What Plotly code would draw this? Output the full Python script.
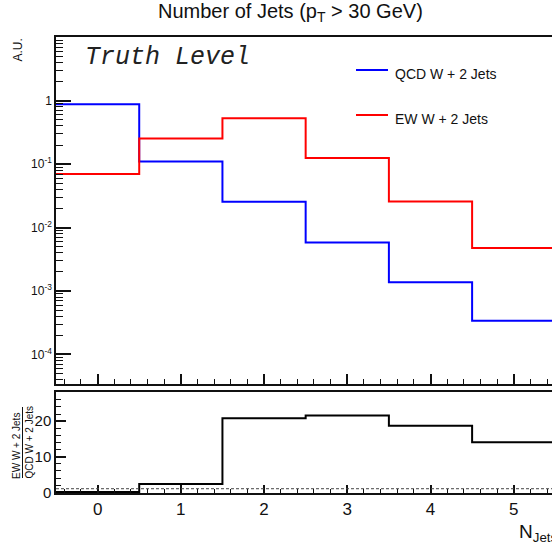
import plotly.graph_objects as go

# Jet multiplicity, normalised (arbitrary units)
bin_centers = [0, 1, 2, 3, 4, 5]
bin_edges = [-0.5, 0.5, 1.5, 2.5, 3.5, 4.5, 5.5]
qcd_w2j = [0.88, 0.110, 0.0255, 0.0058, 0.00138, 0.00034]
ew_w2j = [0.070, 0.255, 0.530, 0.125, 0.0258, 0.00478]

ratio = [e / q for e, q in zip(ew_w2j, qcd_w2j)]

log_tick_vals = [1e-4, 1e-3, 1e-2, 1e-1, 1]
log_tick_text = ["10<sup>-4</sup>", "10<sup>-3</sup>", "10<sup>-2</sup>", "10<sup>-1</sup>", "1"]

W, H = 552, 549
FONT = "Liberation Sans, Arial, sans-serif"
TXT = "#111111"


def px(x):
    return x / W


def py(y):
    return (H - y) / H


def step(values):
    # closed step outline over the bin edges
    return bin_edges, list(values) + [values[-1]]


fig = go.Figure()

xs, ys = step(qcd_w2j)
fig.add_trace(go.Scatter(x=xs, y=ys, mode="lines", line=dict(color="#0000ff", width=2, shape="hv"),
                         xaxis="x", yaxis="y", showlegend=False, hoverinfo="skip"))
xs, ys = step(ew_w2j)
fig.add_trace(go.Scatter(x=xs, y=ys, mode="lines", line=dict(color="#ff0000", width=2, shape="hv"),
                         xaxis="x", yaxis="y", showlegend=False, hoverinfo="skip"))
xs, ys = step(ratio)
fig.add_trace(go.Scatter(x=xs, y=ys, mode="lines", line=dict(color="#000000", width=2, shape="hv"),
                         xaxis="x2", yaxis="y2", showlegend=False, hoverinfo="skip"))

xdom = [px(56), 1.0]
xrange = [-0.5, 5.46]
axis_line = dict(showline=True, linecolor="#111111", linewidth=1.5, zeroline=False, showgrid=False)

fig.update_layout(
    width=W, height=H,
    margin=dict(l=0, r=0, t=0, b=0, autoexpand=False),
    paper_bgcolor="white", plot_bgcolor="white",
    font=dict(family=FONT, color=TXT),
    xaxis=dict(domain=xdom, range=xrange, anchor="y", mirror=True, ticks="inside",
               ticklen=11, tickwidth=1.5, tickcolor="#111111", dtick=1, tick0=0,
               showticklabels=False,
               minor=dict(ticks="inside", ticklen=6, dtick=0.2, tickcolor="#111111", tickwidth=1),
               **axis_line),
    yaxis=dict(domain=[py(384.3), py(37.3)], type="log", range=[-4.47, 1.0], anchor="x",
               ticks="inside", ticklen=15, tickwidth=1.5, tickcolor="#111111",
               tickvals=log_tick_vals, ticktext=log_tick_text,
               tickfont=dict(size=12, color=TXT),
               minor=dict(ticks="inside", ticklen=7, dtick="D1", tickcolor="#111111", tickwidth=1),
               **axis_line),
    xaxis2=dict(domain=xdom, range=xrange, anchor="y2", mirror=True, ticks="inside",
                ticklen=8, tickwidth=1.5, tickcolor="#111111", dtick=1, tick0=0,
                tickfont=dict(size=17, color=TXT),
                minor=dict(ticks="inside", ticklen=4, dtick=0.2, tickcolor="#111111", tickwidth=1),
                **axis_line),
    yaxis2=dict(domain=[py(493), py(392.3)], range=[-0.2, 28.1], anchor="x2",
                ticks="inside", ticklen=10, tickwidth=1.5, tickcolor="#111111",
                tickvals=[0, 10, 20], tickfont=dict(size=15, color=TXT),
                minor=dict(ticks="inside", ticklen=5, dtick=2, tickcolor="#111111", tickwidth=1),
                **axis_line),
)

# unity reference line in the ratio panel
fig.add_shape(type="line", xref="x2 domain", yref="y2", x0=0, x1=1, y0=1, y1=1,
              line=dict(color="#444444", width=1, dash="3px,2px"))

# legend
legend_items = [("QCD W + 2 Jets", "#0000ff", 70), ("EW W + 2 Jets", "#ff0000", 115)]
for label, color, yy in legend_items:
    fig.add_shape(type="line", xref="paper", yref="paper", x0=px(356), x1=px(388),
                  y0=py(yy), y1=py(yy), line=dict(color=color, width=2))
    fig.add_annotation(x=px(393), y=py(yy + 4), xref="paper", yref="paper", text=label,
                       showarrow=False, xanchor="left", yanchor="middle",
                       font=dict(size=14, family=FONT, color=TXT))

# title
fig.add_annotation(x=px(290), y=py(13), xref="paper", yref="paper",
                   text="Number of Jets (p<sub>T</sub> > 30 GeV)", showarrow=False,
                   xanchor="center", yanchor="middle", font=dict(size=20, family=FONT, color=TXT))

# label inside the frame
fig.add_annotation(x=px(83), y=py(57), xref="paper", yref="paper", text="<i>Truth Level</i>",
                   showarrow=False, xanchor="left", yanchor="middle",
                   font=dict(size=25, family="Liberation Mono, Courier New, monospace", color="#222222"))

# axis titles
fig.add_annotation(x=px(17), y=py(37), xref="paper", yref="paper", text="A.U.", textangle=-90,
                   showarrow=False, xanchor="center", yanchor="top", font=dict(size=12, family=FONT, color=TXT))
fig.add_annotation(x=px(16), y=py(446), xref="paper", yref="paper", text="EW W + 2 Jets", textangle=-90,
                   showarrow=False, xanchor="center", yanchor="middle", font=dict(size=10, family=FONT, color=TXT))
fig.add_annotation(x=px(29.5), y=py(442), xref="paper", yref="paper", text="QCD W + 2 Jets", textangle=-90,
                   showarrow=False, xanchor="center", yanchor="middle", font=dict(size=10, family=FONT, color=TXT))
fig.add_shape(type="line", xref="paper", yref="paper", x0=px(22.5), x1=px(22.5), y0=py(407), y1=py(478),
              line=dict(color=TXT, width=1))
fig.add_annotation(x=px(517), y=py(533), xref="paper", yref="paper", text="N<sub>Jets</sub>",
                   showarrow=False, xanchor="left", yanchor="middle", font=dict(size=19, family=FONT, color=TXT))

fig.write_html("out.html")
